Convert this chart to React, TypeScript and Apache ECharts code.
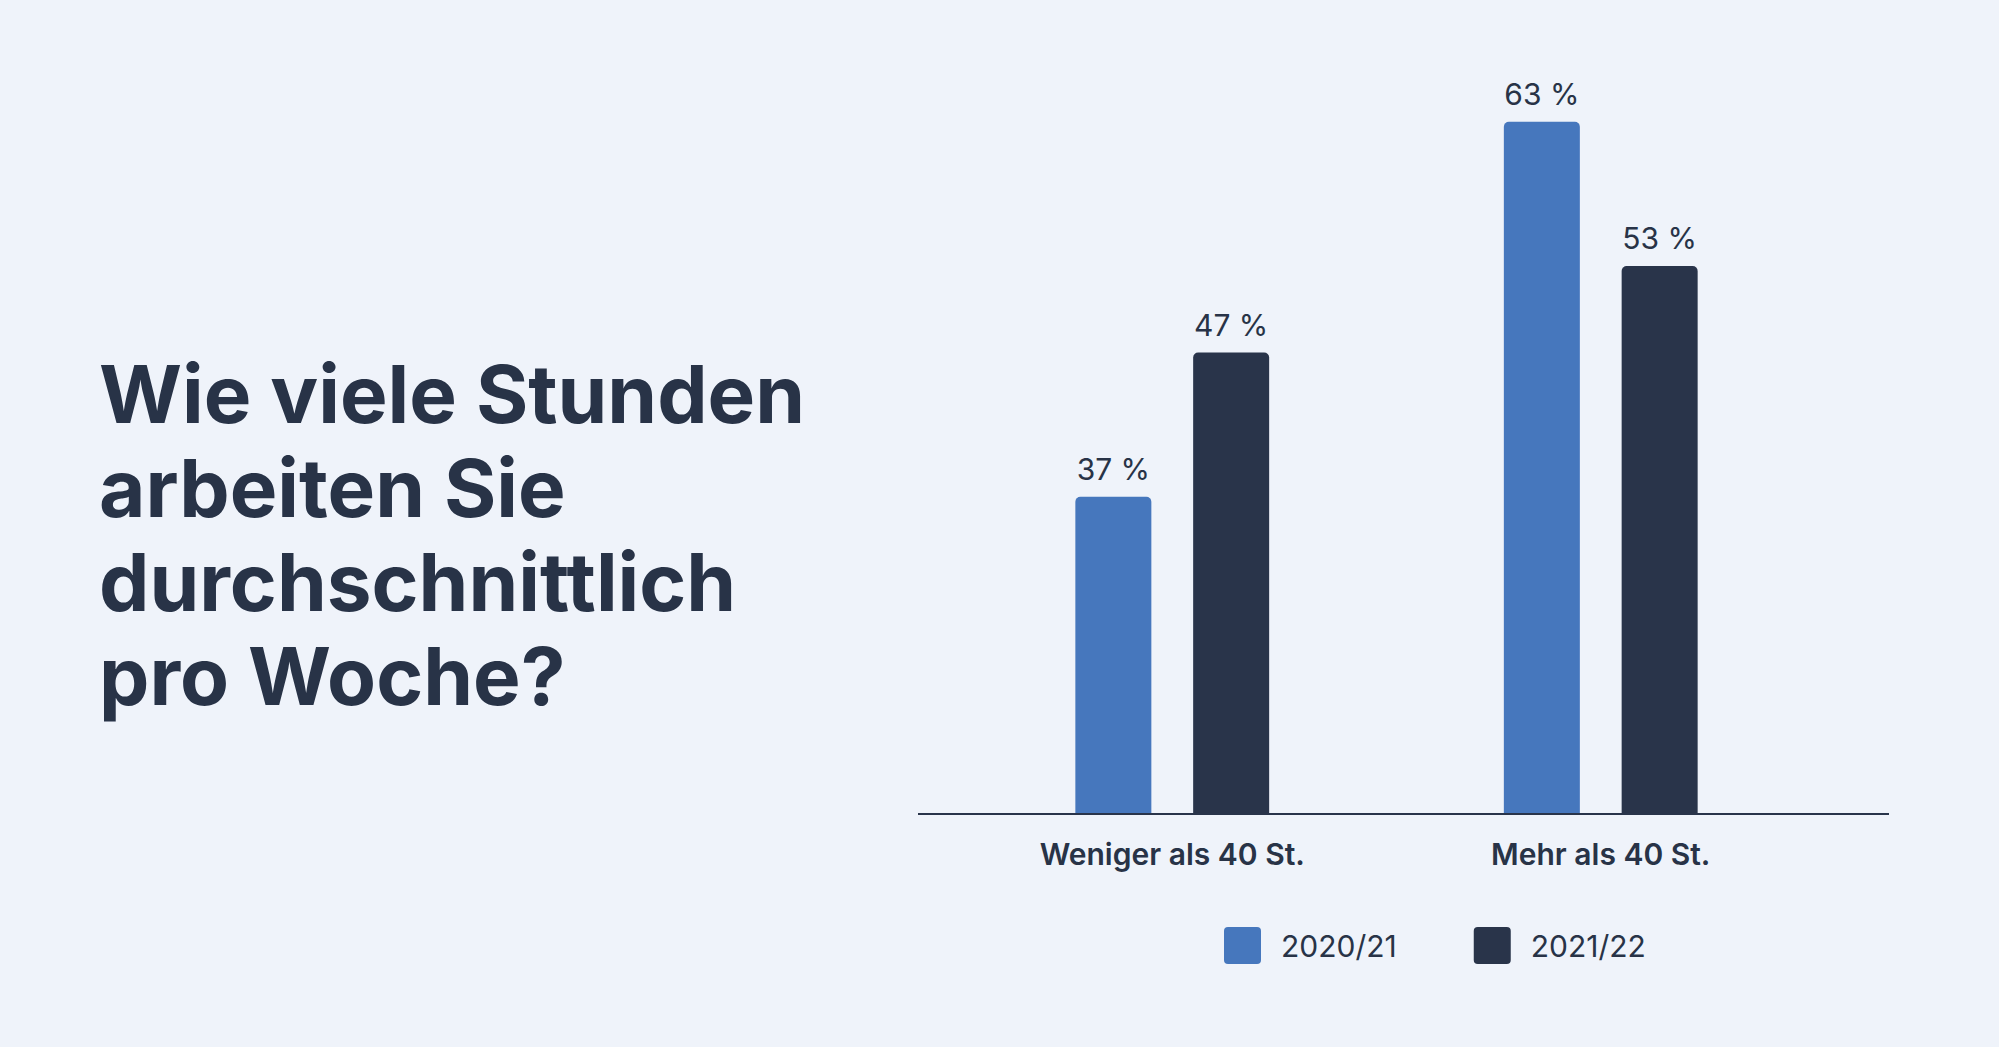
import React, { useEffect, useRef } from "react";
import * as echarts from "echarts";

const categories = ["Weniger als 40 St.", "Mehr als 40 St."];
const seriesNames = ["2020/21", "2021/22"];
const values2021 = [37, 63];
const values2122 = [47, 53];
const titleLines = ["Wie viele Stunden", "arbeiten Sie", "durchschnittlich", "pro Woche?"];

const BG = "#EFF3FA";
const TEXT = "#283347";
const BLUE = "#4677BD";
const DARK = "#29344A";
const FONT = "Inter";
const ICON = "path://M4,0H33Q37,0 37,4V33Q37,37 33,37H4Q0,37 0,33V4Q0,0 4,0Z";

export default function App() {
  const ref = useRef<HTMLDivElement>(null);
  useEffect(() => {
    document.body.style.margin = "0";
    const chart = echarts.init(ref.current!, null, { renderer: "svg" });
    const label = {
      show: true,
      position: "top",
      distance: 13,
      formatter: "{c} %",
      fontFamily: FONT,
      fontSize: 30,
      color: TEXT,
    };
    chart.setOption({
      animation: false,
      backgroundColor: BG,
      title: {
        text: titleLines.join("\n"),
        left: 94,
        top: 341,
        textStyle: {
          fontFamily: FONT,
          fontSize: 80,
          fontWeight: 700,
          lineHeight: 94,
          color: TEXT,
        },
      },
      legend: {
        left: 1224,
        top: 927,
        padding: 0,
        itemWidth: 37,
        itemHeight: 37,
        itemGap: 77,
        icon: ICON,
        data: seriesNames,
        textStyle: {
          fontFamily: FONT,
          fontSize: 30,
          color: TEXT,
          padding: [4, 0, 0, 15],
        },
      },
      grid: { left: 958, right: 184, top: 93, bottom: 233, containLabel: false },
      xAxis: {
        type: "category",
        data: categories,
        axisLine: { show: false },
        axisTick: { show: false },
        axisLabel: {
          margin: 25,
          fontFamily: FONT,
          fontSize: 30,
          fontWeight: 600,
          color: TEXT,
        },
      },
      yAxis: {
        type: "value",
        min: 15,
        max: 65,
        show: false,
        splitLine: { show: false },
      },
      graphic: [
        {
          type: "line",
          shape: { x1: 918, y1: 814, x2: 1889, y2: 814 },
          style: { stroke: DARK, lineWidth: 2 },
          z: 10,
        },
      ],
      series: [
        {
          name: seriesNames[0],
          type: "bar",
          data: values2021,
          barWidth: 76,
          barGap: "55%",
          itemStyle: { color: BLUE, borderRadius: [5, 5, 0, 0] },
          label,
        },
        {
          name: seriesNames[1],
          type: "bar",
          data: values2122,
          barWidth: 76,
          itemStyle: { color: DARK, borderRadius: [5, 5, 0, 0] },
          label,
        },
      ],
    });
    return () => chart.dispose();
  }, []);
  return (
    <div
      ref={ref}
      style={{ position: "absolute", left: 0, top: 0, width: 1999, height: 1047 }}
    />
  );
}
